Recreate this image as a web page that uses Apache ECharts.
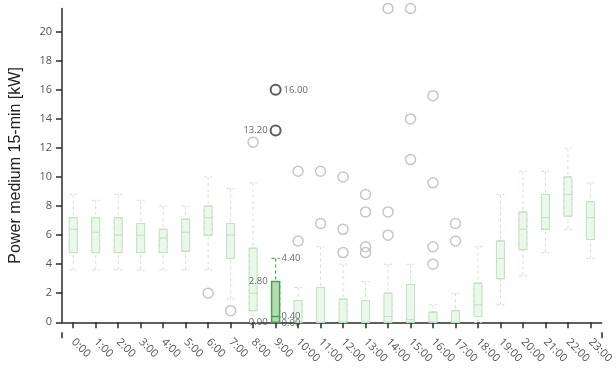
<!DOCTYPE html>
<html>
<head>
<meta charset="utf-8">
<script src="https://cdn.jsdelivr.net/npm/echarts@6/dist/echarts.min.js"></script>
<style>
  html, body { margin: 0; padding: 0; background: #fff; }
  #chart { width: 616px; height: 370px; }
</style>
</head>
<body>
<div id="chart"></div>
<script>
// Hourly distribution of 15-minute medium power (kW)
const hours = ['0:00','1:00','2:00','3:00','4:00','5:00','6:00','7:00','8:00','9:00','10:00','11:00',
               '12:00','13:00','14:00','15:00','16:00','17:00','18:00','19:00','20:00','21:00','22:00','23:00'];
const whiskerLow  = [3.6,3.6,3.6,3.6,3.6,3.6,3.6,1.6,0.0,0.0,0.0,0.0,0.0,0.0,0.0,0.0,0.0,0.0,0.0,1.2,3.2,4.8,6.4,4.4];
const quartile1   = [4.8,4.8,4.8,4.8,4.8,4.9,6.0,4.4,0.8,0.0,0.0,0.0,0.0,0.0,0.0,0.0,0.0,0.0,0.4,3.0,5.0,6.4,7.3,5.7];
const medians     = [6.4,6.2,6.0,6.0,5.8,6.2,7.2,6.0,2.0,0.4,0.0,0.0,0.0,0.0,0.4,0.2,0.0,0.0,1.2,4.4,6.4,7.2,8.8,7.2];
const quartile3   = [7.2,7.2,7.2,6.8,6.4,7.1,8.0,6.8,5.1,2.8,1.5,2.4,1.6,1.5,2.0,2.6,0.7,0.8,2.7,5.6,7.6,8.8,10.0,8.3];
const whiskerHigh = [8.8,8.4,8.8,8.4,8.0,8.0,10.0,9.2,9.6,4.4,2.4,5.2,4.0,2.8,4.0,4.0,1.2,2.0,5.2,8.8,10.4,10.4,12.0,9.6];

const outlierHours  = ['6:00','7:00','8:00','9:00','9:00','10:00','10:00','11:00','11:00','12:00','12:00','12:00',
                       '13:00','13:00','13:00','13:00','14:00','14:00','14:00','15:00','15:00','15:00',
                       '16:00','16:00','16:00','16:00','17:00','17:00'];
const outlierValues = [2.0,0.8,12.4,16.0,13.2,10.4,5.6,10.4,6.8,10.0,6.4,4.8,
                       8.8,7.6,5.2,4.8,21.6,7.6,6.0,21.6,14.0,11.2,
                       15.6,9.6,5.2,4.0,6.8,5.6];

const focusHour = '9:00';
const yTicks = { min: 0, max: 21.6, step: 2 };

const focusIdx = hours.indexOf(focusHour);
const fmt = v => v.toFixed(2);

const light = { border: '#c2e2c2', fill: 'rgba(222,242,222,0.6)', whisker: '#c8e6c8' };
const dark  = { border: '#4f9d4f', fill: '#b3dcb3', whisker: '#5aa35a' };

// Whiskers (dashed), drawn underneath the solid boxes
const whiskerData = hours.map((h, i) => {
  const item = { value: [whiskerLow[i], quartile1[i], medians[i], quartile3[i], whiskerHigh[i]] };
  if (i === focusIdx) item.itemStyle = { borderColor: dark.whisker, borderWidth: 1.3 };
  return item;
});
// Boxes with median line
const boxData = hours.map((h, i) => {
  const item = { value: [quartile1[i], quartile1[i], medians[i], quartile3[i], quartile3[i]] };
  if (i === focusIdx) item.itemStyle = { color: dark.fill, borderColor: dark.border, borderWidth: 1.5 };
  return item;
});

const focusOutliers = outlierValues.filter((v, k) => outlierHours[k] === focusHour);
const outlierData = outlierHours.map((h, k) => {
  const item = { value: [h, outlierValues[k]] };
  if (h === focusHour) {
    item.itemStyle = { borderColor: '#333', borderWidth: 2 };
    item.label = {
      show: true,
      position: outlierValues[k] === Math.max(...focusOutliers) ? 'right' : 'left',
      distance: 2,
      formatter: p => fmt(p.value[1])
    };
  }
  return item;
});

const statLabels = [
  { v: whiskerHigh[focusIdx], pos: 'right', dist: 6 },
  { v: quartile3[focusIdx],   pos: 'left',  dist: 8 },
  { v: medians[focusIdx],     pos: 'right', dist: 6 },
  { v: quartile1[focusIdx],   pos: 'left',  dist: 8 },
  { v: whiskerLow[focusIdx],  pos: 'right', dist: 6, dy: 1 }
].map(s => ({
  value: [focusHour, s.v],
  label: { show: true, position: s.pos, distance: s.dist, offset: [0, s.dy || 0], formatter: p => fmt(p.value[1]) }
}));

const tickFont = { fontFamily: 'Open Sans', fontSize: 11, color: '#555' };
const axisColor = '#2b2b2b';

const chart = echarts.init(document.getElementById('chart'), null, { renderer: 'canvas' });
chart.setOption({
  animation: false,
  backgroundColor: '#fff',
  grid: { left: 61, right: 4.3, top: 8.5, bottom: 47.7, containLabel: false },
  xAxis: [{
    type: 'category',
    data: hours,
    offset: 10,
    boundaryGap: true,
    axisLine: { show: true, lineStyle: { color: axisColor, width: 1.5 } },
    axisTick: { show: true, alignWithLabel: true, length: 6, lineStyle: { color: axisColor, width: 1.5 } },
    axisLabel: Object.assign({ rotate: -45, margin: 8, interval: 0 }, tickFont),
    splitLine: { show: false }
  }, {
    // twin axis: end ticks only, also hosts the whisker layer
    type: 'category',
    data: hours,
    position: 'bottom',
    offset: 10,
    boundaryGap: true,
    axisLine: { show: false },
    axisTick: { show: true, interval: (i) => i === 0, length: 6, lineStyle: { color: axisColor, width: 1.5 } },
    axisLabel: { show: false },
    splitLine: { show: false }
  }],
  yAxis: {
    type: 'value',
    min: yTicks.min,
    max: yTicks.max,
    interval: yTicks.step,
    name: 'Power medium 15-min [kW]',
    nameLocation: 'middle',
    nameGap: 38,
    nameTextStyle: { fontFamily: 'Liberation Sans', fontSize: 16, color: '#222' },
    axisLine: { show: true, lineStyle: { color: axisColor, width: 1.5 } },
    axisTick: { show: true, length: 6, lineStyle: { color: axisColor, width: 1.5 } },
    axisLabel: Object.assign({ margin: 10, showMaxLabel: false }, tickFont),
    splitLine: { show: false }
  },
  series: [{
    type: 'boxplot',
    name: 'whiskers',
    xAxisIndex: 1,
    data: whiskerData,
    boxWidth: [8, 8],
    itemStyle: { color: 'transparent', borderColor: light.whisker, borderWidth: 1, borderType: [3, 3] },
    emphasis: { disabled: true },
    z: 2
  }, {
    type: 'boxplot',
    name: 'boxes',
    xAxisIndex: 0,
    data: boxData,
    boxWidth: [8, 8],
    itemStyle: { color: light.fill, borderColor: light.border, borderWidth: 1 },
    emphasis: { disabled: true },
    z: 3
  }, {
    type: 'scatter',
    name: 'outliers',
    data: outlierData,
    symbol: 'circle',
    symbolSize: 10,
    itemStyle: { color: 'rgba(255,255,255,0)', borderColor: '#b8b8b8', borderWidth: 1.5 },
    label: { fontFamily: 'Open Sans', fontSize: 9.5, color: '#444' },
    emphasis: { disabled: true },
    z: 4
  }, {
    type: 'scatter',
    name: 'stats',
    data: statLabels,
    symbolSize: 0,
    label: { fontFamily: 'Open Sans', fontSize: 9.5, color: '#444' },
    emphasis: { disabled: true },
    z: 5
  }]
});
</script>
</body>
</html>
